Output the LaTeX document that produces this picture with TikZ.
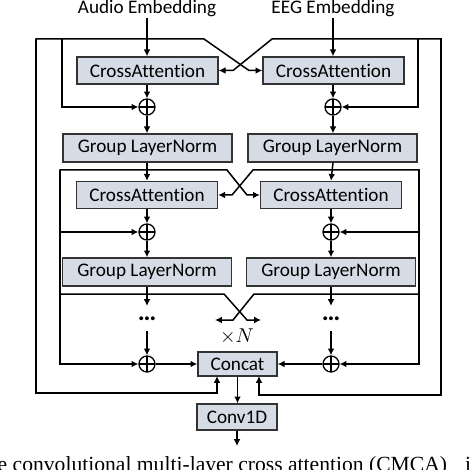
\documentclass[tikz,border=0pt]{standalone}
\usepackage{fontspec}
\setmainfont{Carlito}[Ligatures=NoCommon]
\newfontfamily\capfont{Liberation Serif}
\usetikzlibrary{arrows.meta,calc}
\definecolor{boxfill}{HTML}{D6DCE5}
\definecolor{boxline}{HTML}{333333}
\begin{document}
\begin{tikzpicture}[x=0.5pt,y=-0.5pt,
  line width=0.75pt,
  arr/.style={-{Latex[length=3.4pt,width=3.4pt]}},
  blk/.style={draw=boxline,fill=boxfill,line width=0.7pt,inner sep=0pt,
     font=\fontsize{9.6}{11}\selectfont},
  cab/.style={blk,minimum width=70.5pt,minimum height=13.5pt},
  glnb/.style={blk,minimum width=84.5pt,minimum height=14pt},
  plusnode/.style={circle,draw,inner sep=0pt,minimum size=8pt,line width=0.65pt,
     path picture={\draw[line width=0.65pt] (path picture bounding box.north) -- (path picture bounding box.south)
       (path picture bounding box.west) -- (path picture bounding box.east);}},
  lbl/.style={font=\fontsize{9.6}{11}\selectfont,inner sep=0pt},
  dotsty/.style={font=\fontsize{13}{14}\bfseries\selectfont,inner sep=0pt,anchor=base}
]
\useasboundingbox (0,0) rectangle (476,470);
\clip (0,0) rectangle (476,470);

% labels
\node[lbl] (audio) at (147,8) {Audio Embedding};
\node[lbl] (eeg) at (333,8) {EEG Embedding};

% stage 1
\node[cab] (ca1L) at (147.5,70.5) {CrossAttention};
\node[cab] (ca1R) at (333.5,70.5) {CrossAttention};
\node[plusnode] (p1L) at (147,107) {};
\node[plusnode] (p1R) at (333,107) {};
\node[glnb] (gln1L) at (147.5,148) {Group LayerNorm};
\node[glnb] (gln1R) at (332.5,148) {Group LayerNorm};

% stage 2
\node[cab] (ca2L) at (147,195) {CrossAttention};
\node[cab] (ca2R) at (331,195) {CrossAttention};
\node[plusnode] (p2L) at (147,232) {};
\node[plusnode] (p2R) at (331,232) {};
\node[glnb] (gln2L) at (147,272) {Group LayerNorm};
\node[glnb] (gln2R) at (331,272) {Group LayerNorm};

% stage 3
\node[dotsty] (dotsL) at (147,320) {…};
\node[dotsty] (dotsR) at (331,320) {…};
\node[font=\fontsize{9.8}{10}\selectfont,inner sep=0pt] (xN) at (237,336) {$\times N$};
\node[plusnode] (p3L) at (147,364) {};
\node[plusnode] (p3R) at (331,364) {};
\node[blk,minimum width=39.5pt,minimum height=12pt] (concat) at (237.5,364) {Concat};
\node[blk,minimum width=40pt,minimum height=13pt] (conv) at (237,417) {Conv1D};

% coordinates
\coordinate (aTop) at (147,18);
\coordinate (eTop) at (333,18);
\coordinate (tl) at (36,39);
\coordinate (bl) at (36,393);
\coordinate (xl) at (204,39);
\coordinate (xle) at (249,70.5);
\coordinate (rl1) at (62,39);
\coordinate (tr) at (441,39);
\coordinate (br) at (441,395);
\coordinate (xr) at (272,39);
\coordinate (xre) at (233,70.5);
\coordinate (rr1) at (418,39);
\coordinate (cupL) at (217,376);
\coordinate (cupR) at (259,376);
% stage 2 frame
\coordinate (ftl) at (60,170);
\coordinate (fbl) at (60,364);
\coordinate (fxl) at (227,170);
\coordinate (fxle) at (247,195);
\coordinate (ftr) at (419,170);
\coordinate (fbr) at (419,364);
\coordinate (fxr) at (253,170);
\coordinate (fxre) at (232,195);
% stage 3 frame
\coordinate (gl) at (60,294);
\coordinate (gxl) at (224,294);
\coordinate (gxle) at (247,320);
\coordinate (gendR) at (261,320);
\coordinate (gr) at (419,294);
\coordinate (gxr) at (254,294);
\coordinate (gxre) at (233,320);
\coordinate (gendL) at (215,320);
\coordinate (dL1) at (147,306);
\coordinate (dR1) at (331,306);
\coordinate (dL2) at (147,331);
\coordinate (dR2) at (331,331);
\coordinate (outEnd) at (237,446);

% inputs
\draw[arr] (aTop) -- (aTop |- ca1L.north);
\draw[arr] (eTop) -- (eTop |- ca1R.north);

% stage 1 connections
\draw[arr] (bl) -- (tl) -- (xl) -- (xle) -- (ca1R.west);
\draw[arr] (br) -- (tr) -- (xr) -- (xre) -- (ca1L.east);
\draw[arr] (rl1) |- (p1L.west);
\draw[arr] (rr1) |- (p1R.east);
\draw[arr] (tl) -- (bl) -| (cupL);
\draw[arr] (tr) -- (br) -| (cupR);
\draw[arr] (p1L |- ca1L.south) -- (p1L.north);
\draw[arr] (p1R |- ca1R.south) -- (p1R.north);
\draw[arr] (p1L.south) -- (p1L |- gln1L.north);
\draw[arr] (p1R.south) -- (p1R |- gln1R.north);

% stage 2 connections
\draw[arr] (p1L |- gln1L.south) -- (p1L |- ca2L.north);
\draw[arr] (p1R |- gln1R.south) -- (p2R |- ca2R.north);
\draw[arr] (fbl) -- (ftl) -- (fxl) -- (fxle) -- (ca2R.west);
\draw[arr] (fbr) -- (ftr) -- (fxr) -- (fxre) -- (ca2L.east);
\draw[arr] (ftl) |- (p2L.west);
\draw[arr] (ftr) |- (p2R.east);
\draw[arr] (p2L |- ca2L.south) -- (p2L.north);
\draw[arr] (p2R |- ca2R.south) -- (p2R.north);
\draw[arr] (p2L.south) -- (p2L |- gln2L.north);
\draw[arr] (p2R.south) -- (p2R |- gln2R.north);

% stage 3 connections
\draw[arr] (p2L |- gln2L.south) -- (dL1);
\draw[arr] (p2R |- gln2R.south) -- (dR1);
\draw[arr] (gl) -- (gxl) -- (gxle) -- (gendR);
\draw[arr] (gr) -- (gxr) -- (gxre) -- (gendL);
\draw[arr] (dL2) -- (p3L.north);
\draw[arr] (dR2) -- (p3R.north);
\draw[arr] (ftl) -- (fbl) -- (p3L.west);
\draw[arr] (ftr) -- (fbr) -- (p3R.east);
\draw[arr] (p3L.east) -- (concat.west);
\draw[arr] (p3R.west) -- (concat.east);
\draw[arr] (concat.south) -- (concat.south |- conv.north);
\draw[arr] (conv.south) -- (outEnd);

% caption (cut off)
\node[anchor=base west,inner sep=0pt,font=\capfont\fontsize{10.8}{12}\selectfont] (cap) at (-3,471)
  {e convolutional multi-layer cross attention (CMCA)\hspace{9pt}i};
\end{tikzpicture}
\end{document}
